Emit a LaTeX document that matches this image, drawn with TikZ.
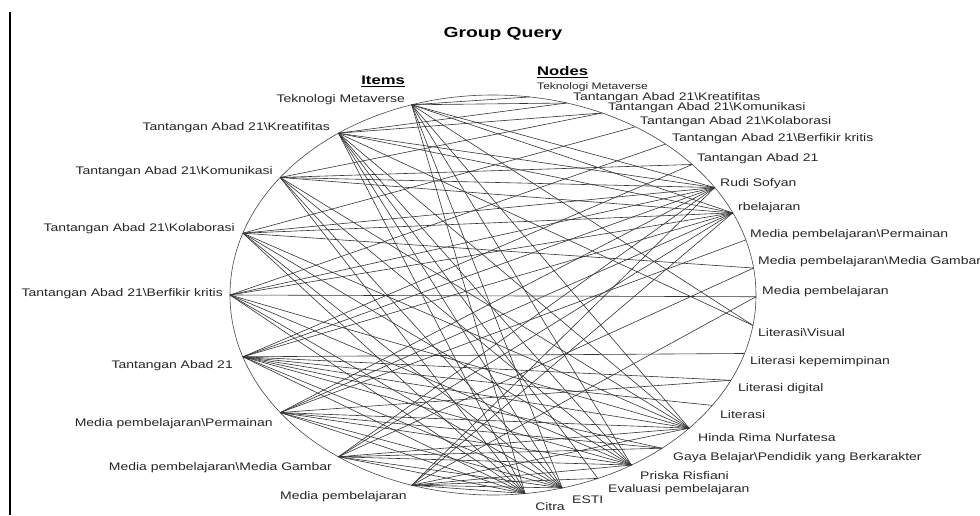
\documentclass[tikz,border=0pt]{standalone}
\usepackage{fontspec}
\setmainfont{Liberation Sans}
\newfontfamily\lblfont{Liberation Sans}[FakeStretch=1.27]
\newfontfamily\hdfont{Liberation Sans}[FakeStretch=1.33]
\tikzset{
  edge/.style={draw=black!80, line width=0.6pt},
  rim/.style={draw=black!72, line width=0.6pt},
  llab/.style={anchor=east, inner sep=0pt, text=black!85, font=\lblfont\fontsize{11}{12}\selectfont},
  rlab/.style={anchor=west, inner sep=0pt, text=black!85, font=\lblfont\fontsize{11}{12}\selectfont},
  head/.style={inner sep=0pt, font=\hdfont\bfseries\fontsize{12.5}{14}\selectfont},
}
\begin{document}
\begin{tikzpicture}[x=1pt,y=-1pt]
\useasboundingbox (0,0) rectangle (980,515);
\fill[white] (0,0) rectangle (980,515);
% left border
\coordinate (bt) at (10,12);
\coordinate (bb) at (10,515);
\draw[line width=2pt] (bt) -- (bb);
% title and headers
\node[inner sep=0pt, font=\hdfont\bfseries\fontsize{14.5}{16}\selectfont] (title) at (503,34) {Group Query};
\node[head, anchor=east] (hitems) at (405,81) {\underline{Items}};
\node[head, anchor=west] (hnodes) at (537,72) {\underline{Nodes}};
% rim
\draw[rim] (493,295) ellipse [x radius=263pt, y radius=200pt];
% item points (left)
\foreach \i/\t in {1/108,2/126,3/144,4/162,5/180,6/198,7/216,8/234,9/252}
  \coordinate (L\i) at ({493+263*cos(\t)},{295-200*sin(\t)});
% node points (right)
\foreach \k in {0,...,20}
  \coordinate (R\k) at ({493+263*cos(82-8.25*\k)},{295-200*sin(82-8.25*\k)});
% connectors
\foreach \a/\b in {
  L1/R0,L1/R1,L1/R6,L1/R7,L1/R11,L1/R15,L1/R17,L1/R19,L1/R20,
  L2/R1,L2/R2,L2/R6,L2/R7,L2/R11,L2/R15,L2/R17,L2/R18,L2/R19,L2/R20,
  L3/R2,L3/R5,L3/R6,L3/R7,L3/R15,L3/R17,L3/R19,L3/R20,
  L4/R3,L4/R6,L4/R7,L4/R9,L4/R15,L4/R17,L4/R19,L4/R20,
  L5/R4,L5/R6,L5/R7,L5/R10,L5/R15,L5/R17,L5/R19,L5/R20,
  L6/R5,L6/R6,L6/R7,L6/R12,L6/R13,L6/R14,L6/R15,L6/R16,L6/R17,L6/R19,L6/R20,
  L7/R8,L7/R6,L7/R7,L7/R13,L7/R15,L7/R16,L7/R17,L7/R19,L7/R20,
  L8/R9,L8/R6,L8/R7,L8/R15,L8/R16,L8/R17,L8/R19,L8/R20,
  L9/R10,L9/R6,L9/R7,L9/R15,L9/R17,L9/R18,L9/R19,L9/R20}
  \draw[edge] (\a) -- (\b);
% left labels
\node[llab] (tL1) at (405,100) {Teknologi Metaverse};
\node[llab] (tL2) at (330,128) {Tantangan Abad 21\textbackslash Kreatifitas};
\node[llab] (tL3) at (273,172) {Tantangan Abad 21\textbackslash Komunikasi};
\node[llab] (tL4) at (235,229) {Tantangan Abad 21\textbackslash Kolaborasi};
\node[llab] (tL5) at (223,294) {Tantangan Abad 21\textbackslash Berfikir kritis};
\node[llab] (tL6) at (233,366) {Tantangan Abad 21};
\node[llab] (tL7) at (273,424) {Media pembelajaran\textbackslash Permainan};
\node[llab] (tL8) at (332,468) {Media pembelajaran\textbackslash Media Gambar};
\node[llab] (tL9) at (407,497) {Media pembelajaran};
% right labels
\node[rlab, font=\lblfont\fontsize{9.5}{11}\selectfont] (tR0) at (537,87) {Teknologi Metaverse};
\node[rlab] (tR1) at (573,98) {Tantangan Abad 21\textbackslash Kreatifitas};
\node[rlab] (tR2) at (608,108) {Tantangan Abad 21\textbackslash Komunikasi};
\node[rlab] (tR3) at (640,122) {Tantangan Abad 21\textbackslash Kolaborasi};
\node[rlab] (tR4) at (672,139) {Tantangan Abad 21\textbackslash Berfikir kritis};
\node[rlab] (tR5) at (697,159) {Tantangan Abad 21};
\node[rlab] (tR6) at (720,184) {Rudi Sofyan};
\node[rlab] (tR7) at (738,208) {rbelajaran};
\node[rlab] (tR8) at (750,235) {Media pembelajaran\textbackslash Permainan};
\node[rlab] (tR9) at (758,262) {Media pembelajaran\textbackslash Media Gambar};
\node[rlab] (tR10) at (762,292) {Media pembelajaran};
\node[rlab] (tR11) at (758,333) {Literasi\textbackslash Visual};
\node[rlab] (tR12) at (750,362) {Literasi kepemimpinan};
\node[rlab] (tR13) at (738,389) {Literasi digital};
\node[rlab] (tR14) at (720,415) {Literasi};
\node[rlab] (tR15) at (698,438) {Hinda Rima Nurfatesa};
\node[rlab] (tR16) at (673,458) {Gaya Belajar\textbackslash Pendidik yang Berkarakter};
\node[rlab] (tR17) at (640,476) {Priska Risfiani};
\node[rlab] (tR18) at (608,490) {Evaluasi pembelajaran};
\node[rlab] (tR19) at (572,500) {ESTI};
\node[rlab, anchor=center] (tR20) at (550,507) {Citra};
\end{tikzpicture}
\end{document}
